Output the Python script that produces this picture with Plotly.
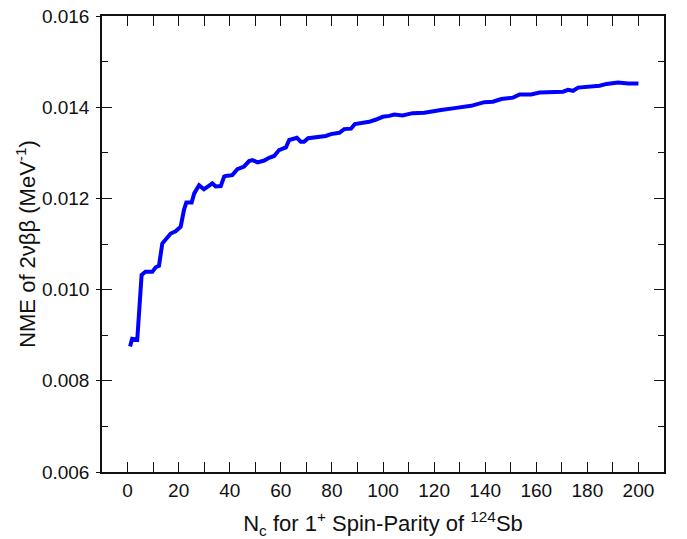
import plotly.graph_objects as go

n_c = [1, 1.8, 3.8, 5.5, 7, 9.7, 11, 12.3, 13.6, 14.9, 16.9, 18.8, 20.8, 22.1, 23, 25.1,
       26.1, 28, 29.9, 33.2, 34.5, 36.5, 37.8, 38.4, 41, 43, 45.6, 47.6, 48.9, 50.9, 53.5,
       55.4, 57.4, 59.3, 62, 63.3, 65, 66.3, 67.8, 69.1, 70.7, 74.4, 77.6, 79.6, 82.9, 84.8,
       87.5, 89, 91.4, 94.6, 97.3, 99.9, 102.5, 104.4, 107.7, 111.6, 116.2, 119.5, 122.7,
       128, 134.5, 139.7, 143, 146.3, 150.9, 153.5, 158, 161.3, 165.2, 170.5, 172.4, 174.4,
       176.4, 180.3, 184.8, 187.5, 192, 196, 200]
nme = [0.00875, 0.00892, 0.00890, 0.01032, 0.01039, 0.01039, 0.01049, 0.01052, 0.01101,
       0.01109, 0.01123, 0.01128, 0.01138, 0.01175, 0.01191, 0.01191, 0.01211, 0.01229,
       0.01220, 0.01233, 0.01226, 0.01227, 0.01248, 0.01249, 0.01251, 0.01264, 0.01270,
       0.01282, 0.01284, 0.01279, 0.01283, 0.01289, 0.01293, 0.01306, 0.01312, 0.01328,
       0.01330, 0.01333, 0.01324, 0.01324, 0.01332, 0.01334, 0.01337, 0.01341, 0.01344,
       0.01352, 0.01353, 0.01363, 0.01365, 0.01368, 0.01373, 0.01379, 0.01381, 0.01384,
       0.01382, 0.01387, 0.01388, 0.01390, 0.01394, 0.01398, 0.01403, 0.01411, 0.01412,
       0.01418, 0.01421, 0.01428, 0.01428, 0.01432, 0.01433, 0.01434, 0.01438, 0.01436,
       0.01443, 0.01445, 0.01447, 0.01451, 0.01454, 0.01452, 0.01452]

x_ticks = [0, 20, 40, 60, 80, 100, 120, 140, 160, 180, 200]
y_ticks = [0.006, 0.008, 0.010, 0.012, 0.014, 0.016]
x_range = [-10, 210]
y_range = [0.006, 0.016]

fig = go.Figure(go.Scatter(x=n_c, y=nme, mode="lines",
                           line=dict(color="#0000FF", width=4), showlegend=False))

font = "Liberation Sans, Arial, sans-serif"
ink = "#111"
axis_common = dict(showline=True, linecolor=ink, linewidth=1.5, mirror="allticks",
                   ticks="inside", ticklen=10, tickwidth=1.3, tickcolor=ink,
                   showgrid=False, zeroline=False, automargin=False,
                   tickfont=dict(family=font, size=19, color=ink))
fig.update_layout(
    xaxis=dict(range=x_range, tickvals=x_ticks, ticklabelstandoff=0,
               minor=dict(ticks="inside", ticklen=6, dtick=10, tick0=0, tickcolor=ink, tickwidth=1.3),
               title=dict(text="N<sub>c</sub> for 1<sup>+</sup> Spin-Parity of <sup>124</sup>Sb",
                          font=dict(family=font, size=22, color=ink), standoff=17),
               **axis_common),
    yaxis=dict(range=y_range, tickvals=y_ticks, tickformat=".3f", ticklabelstandoff=7,
               minor=dict(ticks="inside", ticklen=6, dtick=0.001, tick0=0.006, tickcolor=ink, tickwidth=1.3),
               title=dict(text="NME of 2νββ (MeV<sup>-1</sup>)",
                          font=dict(family=font, size=22, color=ink), standoff=0),
               **axis_common),
    yaxis2=dict(range=y_range, tickvals=y_ticks, overlaying="y", side="left", anchor="x",
                showticklabels=False, ticks="outside", ticklen=5, tickwidth=1.3, tickcolor=ink,
                showline=False, showgrid=False, zeroline=False, automargin=False),
    width=687, height=539, margin=dict(l=102, r=23, t=16, b=67),
    plot_bgcolor="white", paper_bgcolor="white")
# invisible trace to activate the secondary (outer tick) y axis
fig.add_trace(go.Scatter(x=[None], y=[None], yaxis="y2", showlegend=False, hoverinfo="skip"))
fig.write_html("out.html", config={"displayModeBar": False},
               post_script="document.body.style.margin='0';")
